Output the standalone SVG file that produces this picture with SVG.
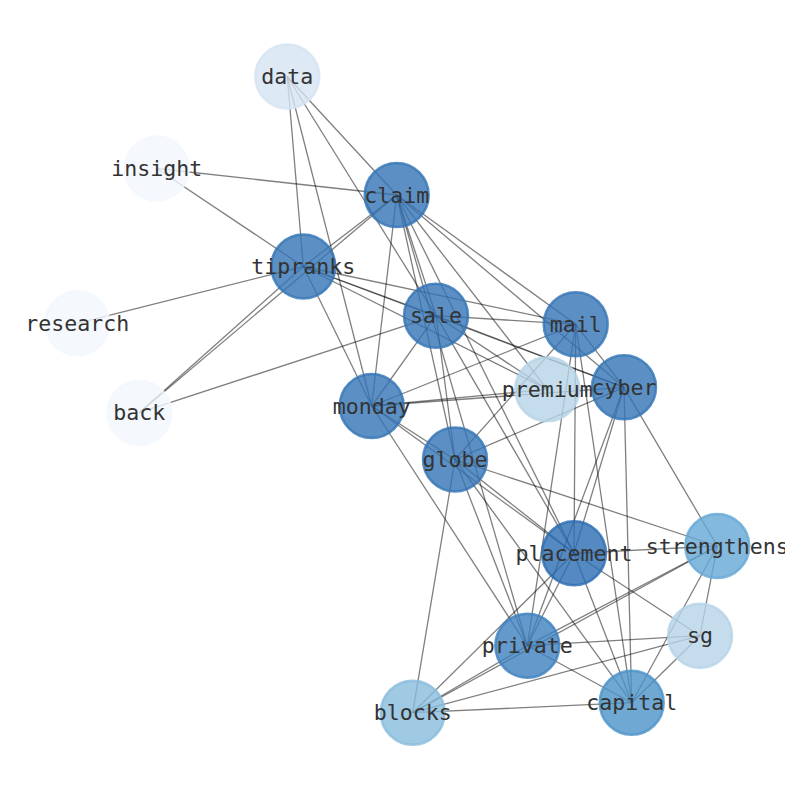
<svg xmlns="http://www.w3.org/2000/svg" width="794" height="790" viewBox="0 0 794 790">
<style>
.e{stroke:#000;stroke-opacity:0.5;stroke-width:1.3;fill:none}
.n{fill-opacity:0.8;stroke-opacity:0.8;stroke-width:2.5}
.t{font-family:"DejaVu Sans Mono","Liberation Mono",monospace;font-size:21.6px;fill:#333;text-anchor:middle;dominant-baseline:central}
</style>
<defs><clipPath id="clip"><rect x="0" y="0" width="785" height="790"/></clipPath></defs>
<rect width="794" height="790" fill="#fff"/>
<g id="edges">
<line class="e" x1="287.3" y1="76.5" x2="303.3" y2="266.5"/>
<line class="e" x1="287.3" y1="76.5" x2="371.7" y2="406"/>
<line class="e" x1="287.3" y1="76.5" x2="436" y2="315.7"/>
<line class="e" x1="287.3" y1="76.5" x2="396.7" y2="195"/>
<line class="e" x1="156.7" y1="168.5" x2="396.7" y2="195"/>
<line class="e" x1="156.7" y1="168.5" x2="303.3" y2="266.5"/>
<line class="e" x1="77.3" y1="323.3" x2="303.3" y2="266.5"/>
<line class="e" x1="139.3" y1="412.7" x2="303.3" y2="266.5"/>
<line class="e" x1="139.3" y1="412.7" x2="396.7" y2="195"/>
<line class="e" x1="139.3" y1="412.7" x2="436" y2="315.7"/>
<line class="e" x1="303.3" y1="266.5" x2="396.7" y2="195"/>
<line class="e" x1="303.3" y1="266.5" x2="575.7" y2="324.3"/>
<line class="e" x1="303.3" y1="266.5" x2="436" y2="315.7"/>
<line class="e" x1="303.3" y1="266.5" x2="624" y2="387.3"/>
<line class="e" x1="303.3" y1="266.5" x2="547.3" y2="389.3"/>
<line class="e" x1="303.3" y1="266.5" x2="371.7" y2="406"/>
<line class="e" x1="396.7" y1="195" x2="371.7" y2="406"/>
<line class="e" x1="396.7" y1="195" x2="436" y2="315.7"/>
<line class="e" x1="396.7" y1="195" x2="575.7" y2="324.3"/>
<line class="e" x1="396.7" y1="195" x2="547.3" y2="389.3"/>
<line class="e" x1="396.7" y1="195" x2="624" y2="387.3"/>
<line class="e" x1="396.7" y1="195" x2="455" y2="459.5"/>
<line class="e" x1="396.7" y1="195" x2="527.3" y2="645.7"/>
<line class="e" x1="396.7" y1="195" x2="574" y2="553.3"/>
<line class="e" x1="436" y1="315.7" x2="575.7" y2="324.3"/>
<line class="e" x1="436" y1="315.7" x2="624" y2="387.3"/>
<line class="e" x1="436" y1="315.7" x2="547.3" y2="389.3"/>
<line class="e" x1="436" y1="315.7" x2="371.7" y2="406"/>
<line class="e" x1="436" y1="315.7" x2="455" y2="459.5"/>
<line class="e" x1="436" y1="315.7" x2="574" y2="553.3"/>
<line class="e" x1="575.7" y1="324.3" x2="371.7" y2="406"/>
<line class="e" x1="575.7" y1="324.3" x2="455" y2="459.5"/>
<line class="e" x1="575.7" y1="324.3" x2="624" y2="387.3"/>
<line class="e" x1="575.7" y1="324.3" x2="574" y2="553.3"/>
<line class="e" x1="575.7" y1="324.3" x2="527.3" y2="645.7"/>
<line class="e" x1="575.7" y1="324.3" x2="631.7" y2="702.7"/>
<line class="e" x1="371.7" y1="406" x2="547.3" y2="389.3"/>
<line class="e" x1="371.7" y1="406" x2="624" y2="387.3"/>
<line class="e" x1="371.7" y1="406" x2="455" y2="459.5"/>
<line class="e" x1="371.7" y1="406" x2="574" y2="553.3"/>
<line class="e" x1="371.7" y1="406" x2="527.3" y2="645.7"/>
<line class="e" x1="455" y1="459.5" x2="624" y2="387.3"/>
<line class="e" x1="455" y1="459.5" x2="574" y2="553.3"/>
<line class="e" x1="455" y1="459.5" x2="527.3" y2="645.7"/>
<line class="e" x1="455" y1="459.5" x2="631.7" y2="702.7"/>
<line class="e" x1="455" y1="459.5" x2="717.3" y2="546"/>
<line class="e" x1="455" y1="459.5" x2="412.7" y2="712.7"/>
<line class="e" x1="624" y1="387.3" x2="574" y2="553.3"/>
<line class="e" x1="624" y1="387.3" x2="527.3" y2="645.7"/>
<line class="e" x1="624" y1="387.3" x2="631.7" y2="702.7"/>
<line class="e" x1="624" y1="387.3" x2="717.3" y2="546"/>
<line class="e" x1="574" y1="553.3" x2="717.3" y2="546"/>
<line class="e" x1="574" y1="553.3" x2="631.7" y2="702.7"/>
<line class="e" x1="574" y1="553.3" x2="527.3" y2="645.7"/>
<line class="e" x1="574" y1="553.3" x2="412.7" y2="712.7"/>
<line class="e" x1="574" y1="553.3" x2="700" y2="635.7"/>
<line class="e" x1="527.3" y1="645.7" x2="717.3" y2="546"/>
<line class="e" x1="527.3" y1="645.7" x2="700" y2="635.7"/>
<line class="e" x1="527.3" y1="645.7" x2="631.7" y2="702.7"/>
<line class="e" x1="527.3" y1="645.7" x2="412.7" y2="712.7"/>
<line class="e" x1="412.7" y1="712.7" x2="717.3" y2="546"/>
<line class="e" x1="412.7" y1="712.7" x2="700" y2="635.7"/>
<line class="e" x1="412.7" y1="712.7" x2="631.7" y2="702.7"/>
<line class="e" x1="717.3" y1="546" x2="700" y2="635.7"/>
<line class="e" x1="717.3" y1="546" x2="631.7" y2="702.7"/>
<line class="e" x1="700" y1="635.7" x2="631.7" y2="702.7"/>
</g>
<g id="node-data"><circle class="n" cx="287.3" cy="76.5" r="32" fill="#d5e4f3" stroke="#d5e4f3"/></g>
<g id="node-insight"><circle class="n" cx="156.7" cy="168.5" r="32" fill="#f3f8fe" stroke="#f3f8fe"/></g>
<g id="node-claim"><circle class="n" cx="396.7" cy="195" r="32" fill="#3374b5" stroke="#3374b5"/></g>
<g id="node-tipranks"><circle class="n" cx="303.3" cy="266.5" r="32" fill="#3374b5" stroke="#3374b5"/></g>
<g id="node-research"><circle class="n" cx="77.3" cy="323.3" r="32" fill="#f3f8fe" stroke="#f3f8fe"/></g>
<g id="node-sale"><circle class="n" cx="436" cy="315.7" r="32" fill="#3374b5" stroke="#3374b5"/></g>
<g id="node-mail"><circle class="n" cx="575.7" cy="324.3" r="32" fill="#3374b5" stroke="#3374b5"/></g>
<g id="node-back"><circle class="n" cx="139.3" cy="412.7" r="32" fill="#f3f8fe" stroke="#f3f8fe"/></g>
<g id="node-premium"><circle class="n" cx="547.3" cy="389.3" r="32" fill="#b5d3e7" stroke="#b5d3e7"/></g>
<g id="node-cyber"><circle class="n" cx="624" cy="387.3" r="32" fill="#3374b5" stroke="#3374b5"/></g>
<g id="node-monday"><circle class="n" cx="371.7" cy="406" r="32" fill="#3374b5" stroke="#3374b5"/></g>
<g id="node-globe"><circle class="n" cx="455" cy="459.5" r="32" fill="#3374b5" stroke="#3374b5"/></g>
<g id="node-placement"><circle class="n" cx="574" cy="553.3" r="32" fill="#2b6bb2" stroke="#2b6bb2"/></g>
<g id="node-strengthens"><circle class="n" cx="717.3" cy="546" r="32" fill="#65a8d6" stroke="#65a8d6"/></g>
<g id="node-sg"><circle class="n" cx="700" cy="635.7" r="32" fill="#b5d3e7" stroke="#b5d3e7"/></g>
<g id="node-private"><circle class="n" cx="527.3" cy="645.7" r="32" fill="#3c80be" stroke="#3c80be"/></g>
<g id="node-blocks"><circle class="n" cx="412.7" cy="712.7" r="32" fill="#88bbdd" stroke="#88bbdd"/></g>
<g id="node-capital"><circle class="n" cx="631.7" cy="702.7" r="32" fill="#4a92c8" stroke="#4a92c8"/></g>
<g id="labels" clip-path="url(#clip)">
<text class="t" x="287.3" y="76.5">data</text>
<text class="t" x="156.7" y="168.5">insight</text>
<text class="t" x="396.7" y="195">claim</text>
<text class="t" x="303.3" y="266.5">tipranks</text>
<text class="t" x="77.3" y="323.3">research</text>
<text class="t" x="436" y="315.7">sale</text>
<text class="t" x="575.7" y="324.3">mail</text>
<text class="t" x="139.3" y="412.7">back</text>
<text class="t" x="547.3" y="389.3">premium</text>
<text class="t" x="624" y="387.3">cyber</text>
<text class="t" x="371.7" y="406">monday</text>
<text class="t" x="455" y="459.5">globe</text>
<text class="t" x="574" y="553.3">placement</text>
<text class="t" x="717.3" y="546">strengthens</text>
<text class="t" x="700" y="635.7">sg</text>
<text class="t" x="527.3" y="645.7">private</text>
<text class="t" x="412.7" y="712.7">blocks</text>
<text class="t" x="631.7" y="702.7">capital</text>
</g>
</svg>
